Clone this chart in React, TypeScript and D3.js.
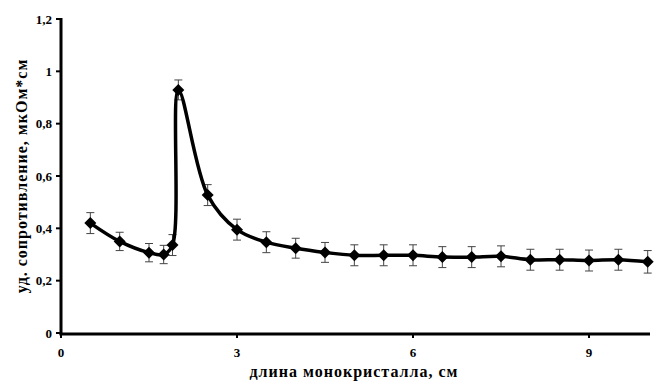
import React from "react";
import * as d3 from "d3";

const lengths = [0.5, 1, 1.5, 1.75, 1.9, 2, 2.5, 3, 3.5, 4, 4.5, 5, 5.5, 6, 6.5, 7, 7.5, 8, 8.5, 9, 9.5, 10];
const resistivity = [0.42, 0.35, 0.307, 0.3, 0.336, 0.929, 0.527, 0.395, 0.347, 0.324, 0.308, 0.297, 0.297, 0.297, 0.29, 0.29, 0.293, 0.28, 0.28, 0.277, 0.28, 0.272];
const errors = [0.04, 0.035, 0.035, 0.035, 0.04, 0.038, 0.04, 0.04, 0.04, 0.038, 0.038, 0.04, 0.04, 0.04, 0.04, 0.04, 0.04, 0.04, 0.04, 0.04, 0.04, 0.043];
const xTicks = [0, 3, 6, 9];
const yTicks = [0, 0.2, 0.4, 0.6, 0.8, 1, 1.2];
const xTitle = "длина монокристалла, см";
const yTitle = "уд. сопротивление, мкОм*см";

const W = 655, H = 385;
const left = 61, right = 647.7, top = 19, bottom = 333;
const font = "'Liberation Serif', 'Times New Roman', serif";

export default function App() {
  const x = d3.scaleLinear().domain([0, 10]).range([left, right]);
  const y = d3.scaleLinear().domain([0, 1.2]).range([bottom, top]);
  const pts = lengths.map((l, i) => [x(l), y(resistivity[i])] as [number, number]);
  const line = d3.line().curve(d3.curveCatmullRom.alpha(0.5))(pts) || "";
  const fmt = (v: number) => String(Math.round(v * 10) / 10).replace(".", ",");
  const ms = 6;
  return (
    <svg width={W} height={H} style={{ position: "absolute", left: 0, top: 0, background: "#fff" }} fontFamily={font}>
      <line x1={left} y1={top - 1} x2={left} y2={bottom + 1.5} stroke="#000" strokeWidth={3} />
      <line x1={left - 1.5} y1={bottom + 1} x2={650} y2={bottom + 1} stroke="#000" strokeWidth={3} />
      {yTicks.map((t) => (
        <g key={"y" + t}>
          <line x1={left - 5} x2={left} y1={y(t)} y2={y(t)} stroke="#000" strokeWidth={2} />
          <text x={52} y={y(t) + 4.5} textAnchor="end" fontSize={13} fontWeight="bold">{fmt(t)}</text>
        </g>
      ))}
      {xTicks.map((t) => (
        <g key={"x" + t}>
          <line x1={x(t)} x2={x(t)} y1={bottom} y2={bottom + 5} stroke="#000" strokeWidth={2} />
          <text x={x(t)} y={357} textAnchor="middle" fontSize={13} fontWeight="bold">{t}</text>
        </g>
      ))}
      {lengths.map((l, i) => {
        const cx = x(l);
        const y1 = y(resistivity[i] + errors[i]);
        const y2 = y(resistivity[i] - errors[i]);
        return (
          <g key={"e" + i} stroke="#444" strokeWidth={1}>
            <line x1={cx} x2={cx} y1={y1} y2={y2} />
            <line x1={cx - 4} x2={cx + 4} y1={y1} y2={y1} />
            <line x1={cx - 4} x2={cx + 4} y1={y2} y2={y2} />
          </g>
        );
      })}
      <path d={line} fill="none" stroke="#000" strokeWidth={3.5} strokeLinejoin="round" />
      {pts.map(([px, py], i) => (
        <path key={"m" + i} d={`M${px},${py - ms}L${px + ms},${py}L${px},${py + ms}L${px - ms},${py}Z`} fill="#000" />
      ))}
      <text x={354} y={377} textAnchor="middle" fontSize={16} fontWeight="bold" letterSpacing={1}>{xTitle}</text>
      <text transform={`translate(27,${(top + bottom) / 2}) rotate(-90)`} textAnchor="middle" fontSize={16} fontWeight="bold" letterSpacing={1}>{yTitle}</text>
    </svg>
  );
}
